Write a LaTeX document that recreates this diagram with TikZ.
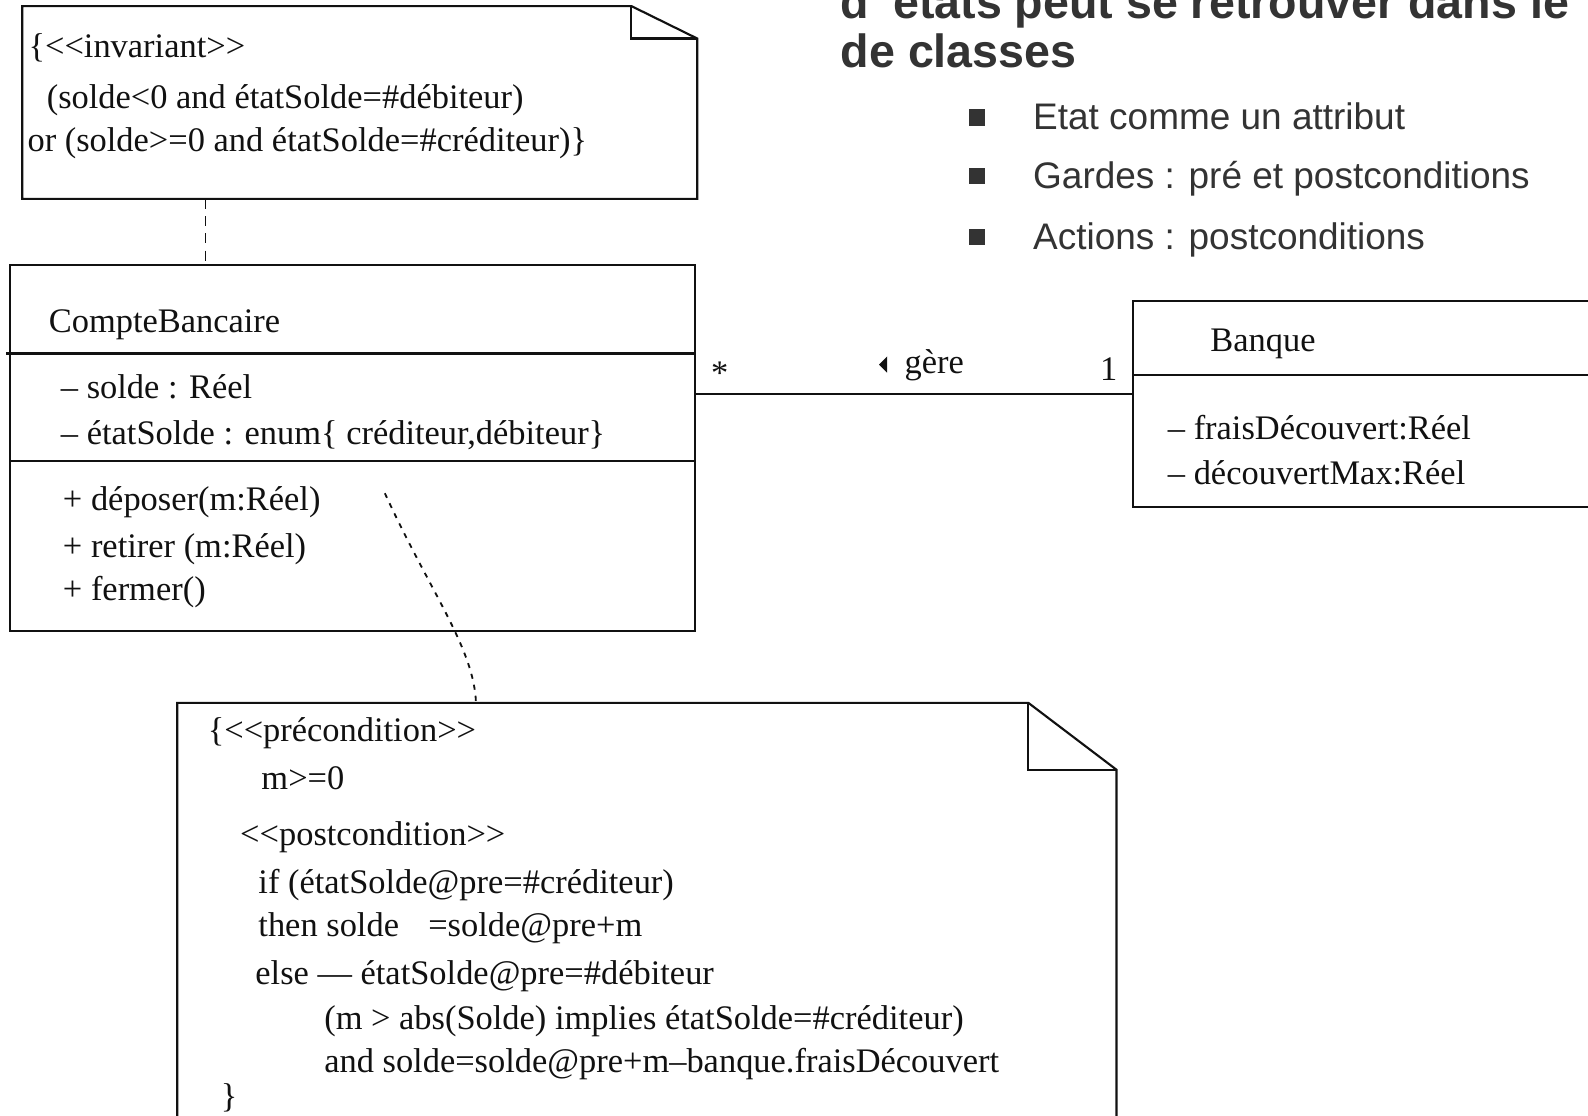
\documentclass[tikz,border=0pt]{standalone}
\usepackage{fontspec}
\setmainfont{Liberation Serif}
\newfontfamily\slidefont{Liberation Sans}
\usetikzlibrary{calc}
\definecolor{ink}{HTML}{111111}
\definecolor{slidegray}{HTML}{333333}
% stereotype brackets written as two separate characters
\newcommand\stOpen{<\kern0pt<}
\newcommand\stClose{>\kern0pt>}
\begin{document}
\begin{tikzpicture}[x=1pt,y=-1pt,
  umlline/.style={draw=ink,line width=2.1pt},
  umlbox/.style={anchor=north west,inner sep=0pt,draw=none},
  umltxt/.style={anchor=base west,inner sep=0pt,text=ink,font=\fontsize{34}{40}\selectfont},
  notelink/.style={draw=ink,line width=1.6pt,dash pattern=on 10pt off 7pt},
  oplink/.style={draw=ink,line width=1.8pt,dash pattern=on 5pt off 6pt},
  slidetxt/.style={anchor=base west,inner sep=0pt,text=slidegray,font=\slidefont\fontsize{36.5}{42}\selectfont},
  slidetitle/.style={anchor=base west,inner sep=0pt,text=slidegray,font=\slidefont\bfseries\fontsize{46}{54}\selectfont},
  bullet/.style={fill=slidegray,minimum size=16pt,inner sep=0pt}
]
\useasboundingbox (0,0) rectangle (1568,1101);
\clip (0,0) rectangle (1568,1101);
\fill[white] (0,0) rectangle (1568,1101);

% ---------- slide title and bullet list ----------
\node[slidetitle] (title1) at (830,18) {d' états peut se retrouver dans le};
\node[slidetitle] (title2) at (830,67) {de classes};
\node[bullet] (b1) at (965,116) {};
\node[bullet] (b2) at (965,174) {};
\node[bullet] (b3) at (965,234) {};
\node[slidetxt] (l1) at (1020,128) {Etat comme un attribut};
\node[slidetxt] (l2) at (1020,186) {Gardes : pré et postconditions};
\node[slidetxt] (l3) at (1020,246) {Actions : postconditions};

% ---------- invariant note ----------
\node[umlbox,minimum width=666pt,minimum height=190pt] (inv) at (22,6) {};
\draw[umlline] (inv.north west) -- ($(inv.north east)+(-65,0)$) -- ($(inv.north east)+(0,32)$)
  -- (inv.south east) -- (inv.south west) -- cycle;
\draw[umlline] ($(inv.north east)+(-65,0)$) -- ($(inv.north east)+(-65,32)$) -- ($(inv.north east)+(0,32)$);
\node[umltxt] (inv1) at (28,57) {\{\stOpen invariant\stClose};
\node[umltxt] (inv2) at (46,107) {(solde<0 and étatSolde=\#débiteur)};
\node[umltxt] (inv3) at (27,150) {or (solde>=0 and étatSolde=\#créditeur)\}};

% ---------- class CompteBancaire ----------
\node[umlbox,minimum width=676pt,minimum height=361pt] (cb) at (10,262) {};
\draw[umlline] (cb.north west) rectangle (cb.south east);
\coordinate (cbdiv1) at (6,349);
\coordinate (cbdiv2) at (10,455);
\draw[umlline] (cbdiv1) -- (cbdiv1 -| cb.east);
\draw[umlline] (cbdiv2) -- (cbdiv2 -| cb.east);
\node[umltxt] (cbname) at (48,328) {CompteBancaire};
\node[umltxt] (cba1) at (60,393) {– solde : Réel};
\node[umltxt] (cba2) at (60,439) {– étatSolde : enum\{ créditeur,débiteur\}};
\node[umltxt] (cbo1) at (62,504) {+ déposer(m:Réel)};
\node[umltxt] (cbo2) at (62,550) {+ retirer (m:Réel)};
\node[umltxt] (cbo3) at (62,593) {+ fermer()};

% ---------- class Banque ----------
\node[umlbox,minimum width=500pt,minimum height=203pt] (bq) at (1119,297) {};
\draw[umlline] (bq.north west) rectangle (bq.south east);
\coordinate (bqdiv) at (1119,370);
\draw[umlline] (bqdiv) -- (bqdiv -| bq.east);
\node[umltxt] (bqname) at (1195,347) {Banque};
\node[umltxt] (bqa1) at (1153,434) {– fraisDécouvert:Réel};
\node[umltxt] (bqa2) at (1153,478) {– découvertMax:Réel};

% ---------- association "gère" ----------
\coordinate (assocy) at (0,389);
\draw[umlline] (cb.east |- assocy) -- (bq.west |- assocy);
\node[umltxt] (mult1) at (702,380) {*};
\node[umltxt] (mult2) at (1086,376) {1};
\node[umltxt] (gere) at (893,369) {gère};
\fill[ink] ($(gere.base west)+(-25,-9)$) -- ++(8,-8) -- ++(0,16) -- cycle;

% ---------- note link to the invariant ----------
\coordinate (invlinkx) at (203,0);
\draw[notelink] (inv.south -| invlinkx) -- (cb.north -| invlinkx);

% ---------- pre/postcondition note ----------
\node[umlbox,minimum width=927pt,minimum height=520pt] (pp) at (175,694) {};
\draw[umlline] (pp.north west) -- ($(pp.north east)+(-87,0)$) -- ($(pp.north east)+(0,66)$)
  -- (pp.south east) -- (pp.south west) -- cycle;
\draw[umlline] ($(pp.north east)+(-87,0)$) -- ($(pp.north east)+(-87,66)$) -- ($(pp.north east)+(0,66)$);
\node[umltxt] (pp1) at (205,732) {\{\stOpen précondition\stClose};
\node[umltxt] (pp2) at (258,780) {m>=0};
\node[umltxt] (pp3) at (237,835) {\stOpen postcondition\stClose};
\node[umltxt] (pp4) at (255,882) {if (étatSolde@pre=\#créditeur)};
\node[umltxt] (pp5) at (255,925) {then solde\hspace{0.6em} =solde@pre+m};
\node[umltxt] (pp6) at (252,972) {else — étatSolde@pre=\#débiteur};
\node[umltxt] (pp7) at (320,1017) {(m > abs(Solde) implies étatSolde=\#créditeur)};
\node[umltxt] (pp8) at (320,1059) {and solde=solde@pre+m–banque.fraisDécouvert};
\node[umltxt] (pp9) at (218,1094) {\}};

% ---------- note link to the operations ----------
\coordinate (opsanchor) at (380,487);
\draw[oplink] (opsanchor) .. controls (425,585) and (468,640) .. ($(pp.north west)+(295,0)$);
\end{tikzpicture}
\end{document}
